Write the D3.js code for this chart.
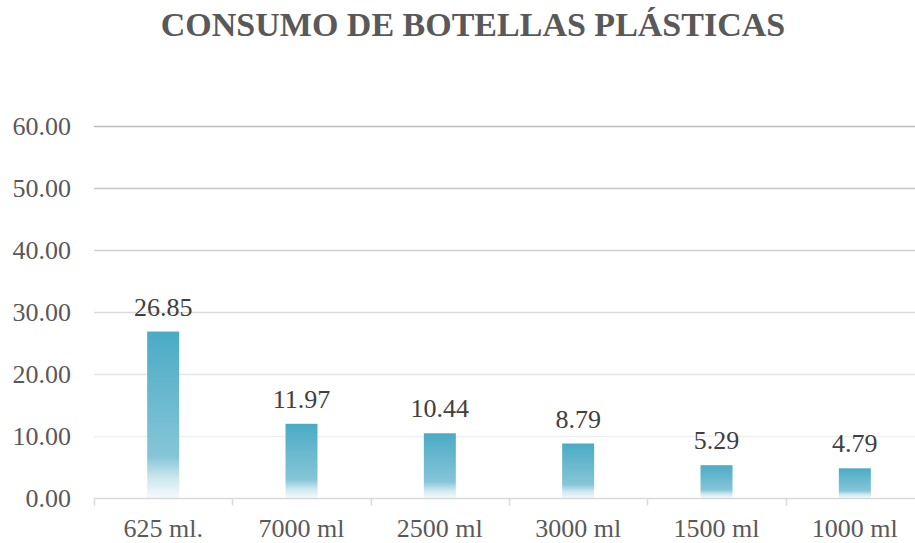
<!DOCTYPE html>
<html>
<head>
<meta charset="utf-8">
<script src="https://cdn.jsdelivr.net/npm/d3@7"></script>
<style>
  html, body { margin: 0; padding: 0; background: #fff; }
  svg { display: block; }
  svg text { font-family: "Liberation Serif", "Times New Roman", "DejaVu Serif", serif; }
</style>
</head>
<body>
<svg id="chart" width="915" height="543"></svg>
<script>
// Bottle sizes and their consumption share
const categories = ["625 ml.", "7000 ml", "2500 ml", "3000 ml", "1500 ml", "1000 ml"];
const values = [26.85, 11.97, 10.44, 8.79, 5.29, 4.79];
const yTicks = [0, 10, 20, 30, 40, 50, 60];
const title = "CONSUMO DE BOTELLAS PLÁSTICAS";

const svg = d3.select("#chart");
const W = 915, H = 543;
const m = { left: 94, right: -9, top: 126, bottom: 45 };

const x = d3.scaleBand().domain(categories).range([m.left, W - m.right]).paddingInner(0).paddingOuter(0);
const y = d3.scaleLinear().domain([0, 60]).range([H - m.bottom, m.top]);

// Bar fill: blue at the top, fading to white at the base
const defs = svg.append("defs");
const grad = defs.append("linearGradient")
  .attr("id", "barFill").attr("x1", 0).attr("y1", 0).attr("x2", 0).attr("y2", 1);
grad.append("stop").attr("offset", "0%").attr("stop-color", "#4aabc5");
grad.append("stop").attr("offset", "75%").attr("stop-color", "#86c5d7");
grad.append("stop").attr("offset", "88%").attr("stop-color", "#cde7ef");
grad.append("stop").attr("offset", "100%").attr("stop-color", "#f4fafc");

// Gridlines get lighter toward the baseline
const gridColor = d3.scaleLinear().domain([10, 60]).range(["#efefef", "#bdbdbd"]);

svg.append("g")
  .selectAll("line")
  .data(yTicks.filter(d => d > 0))
  .join("line")
  .attr("x1", m.left).attr("x2", W)
  .attr("y1", d => Math.round(y(d)) + 0.5).attr("y2", d => Math.round(y(d)) + 0.5)
  .attr("stroke", d => gridColor(d))
  .attr("stroke-width", 1.5);

// Y axis labels
const yAxis = d3.axisLeft(y).tickValues(yTicks).tickFormat(d3.format(".2f")).tickSize(0).tickPadding(23);
const yg = svg.append("g").attr("transform", `translate(${m.left},0)`).call(yAxis);
yg.select(".domain").remove();
yg.attr("font-family", null);
yg.selectAll("text")
  .attr("font-size", 26).attr("fill", "#595959")
  .attr("dy", "0.34em");

// Bars
const bw = 32;
svg.append("g")
  .selectAll("rect")
  .data(values)
  .join("rect")
  .attr("x", (d, i) => x(categories[i]) + x.bandwidth() / 2 - bw / 2)
  .attr("width", bw)
  .attr("y", d => y(d))
  .attr("height", d => y(0) - y(d))
  .attr("fill", "url(#barFill)");

// X axis with boundary ticks
const baseY = Math.round(y(0)) + 0.5;
const xg = svg.append("g");
xg.append("line")
  .attr("x1", m.left).attr("x2", W).attr("y1", baseY).attr("y2", baseY)
  .attr("stroke", "#d9d9d9").attr("stroke-width", 1.5);
const bounds = categories.map(c => x(c)).concat([x.range()[1]]);
xg.selectAll("line.tick")
  .data(bounds)
  .join("line")
  .attr("class", "tick")
  .attr("x1", d => Math.round(d) + 0.5).attr("x2", d => Math.round(d) + 0.5)
  .attr("y1", baseY).attr("y2", baseY + 7)
  .attr("stroke", "#d9d9d9").attr("stroke-width", 1.5);
xg.selectAll("text")
  .data(categories)
  .join("text")
  .attr("x", d => x(d) + x.bandwidth() / 2)
  .attr("y", 537)
  .attr("text-anchor", "middle")
  .attr("font-size", 26).attr("fill", "#595959")
  .text(d => d);

// Value labels
svg.append("g")
  .selectAll("text")
  .data(values)
  .join("text")
  .attr("x", (d, i) => x(categories[i]) + x.bandwidth() / 2)
  .attr("y", d => y(d) - 16)
  .attr("text-anchor", "middle")
  .attr("font-size", 26).attr("fill", "#404040")
  .text(d => d3.format(".2f")(d));

// Title
svg.append("text")
  .attr("x", 473).attr("y", 36)
  .attr("text-anchor", "middle")
  .attr("font-size", 34).attr("font-weight", "bold")
  .attr("fill", "#595959")
  .text(title);
</script>
</body>
</html>
